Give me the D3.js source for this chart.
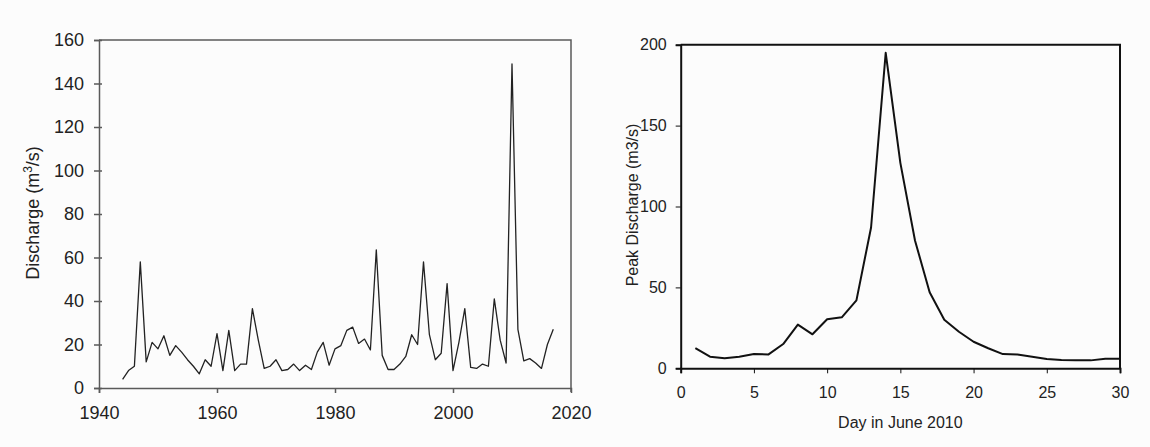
<!DOCTYPE html>
<html>
<head>
<meta charset="utf-8">
<script src="https://cdn.jsdelivr.net/npm/d3@7"></script>
<style>
  body { margin: 0; background: #fcfcfc; }
  svg { font-family: Arial, "Liberation Sans", sans-serif; }
</style>
</head>
<body>
<svg id="chart" width="1150" height="447"></svg>
<script>
/* DATA */
const years = d3.range(1944, 2018);
const annualPeak = [4, 8, 10, 58, 12, 21, 18, 24, 15, 19.5,
  16.5, 13, 10, 6.5, 13, 10, 25, 8, 26.5, 8,
  11, 11, 36.5, 22, 9, 10, 13, 8, 8.5, 11,
  8, 10.5, 8.5, 16.5, 21, 10.5, 18, 19.5, 26.5, 28,
  20.5, 22.5, 17.5, 63.5, 15, 8.5, 8.5, 11, 14.5, 24.5,
  20, 58, 24.5, 13, 16, 48, 8, 21, 36.5, 9.5,
  9, 11, 10, 41, 22, 11.5, 149, 27, 12.5, 13.5,
  11.5, 9, 20, 27];
const yearTicks = [1940, 1960, 1980, 2000, 2020];
const dischargeTicks = [0, 20, 40, 60, 80, 100, 120, 140, 160];

const days = d3.range(1, 31);
const junePeak = [12.5, 7.2, 6.2, 7.2, 8.8, 8.6, 15, 27, 21, 30.3,
  31.5, 42, 87, 195, 127, 79, 47, 30, 22.6, 16.4,
  12.4, 8.8, 8.5, 7.2, 5.7, 5.1, 4.9, 4.9, 5.9, 5.9];
const dayTicks = [0, 5, 10, 15, 20, 25, 30];
const peakTicks = [0, 50, 100, 150, 200];

const svg = d3.select("#chart");

/* LEFT: annual discharge */
const x1 = d3.scaleLinear().domain([1940, 2020]).range([99, 571]);
const y1 = d3.scaleLinear().domain([0, 160]).range([388, 40]);
const grey = "#5a5a5a";

const left = svg.append("g").attr("font-size", 18);

// frame top + right
left.append("path")
  .attr("d", `M${x1(1940)},${y1(160)}H${x1(2020)}V${y1(0) + 4}`)
  .attr("fill", "none").attr("stroke", grey).attr("stroke-width", 1.5);

const ax1 = left.append("g").attr("transform", `translate(0,${y1(0)})`)
  .call(d3.axisBottom(x1).tickValues(yearTicks).tickFormat(d3.format("d")).tickSize(5).tickPadding(13));
const ay1 = left.append("g").attr("transform", `translate(${x1(1940)},0)`)
  .call(d3.axisLeft(y1).tickValues(dischargeTicks).tickSize(5).tickPadding(10));
[ax1, ay1].forEach(g => {
  g.select(".domain").attr("stroke", grey).attr("stroke-width", 1.5);
  g.selectAll(".tick line").attr("stroke", grey).attr("stroke-width", 1.5);
  g.selectAll("text").attr("fill", "#222").attr("font-size", 18);
});
ay1.selectAll(".tick line").attr("x2", 3).attr("x1", -5);
ax1.selectAll(".tick").filter(d => d === 2020).select("line").remove();

left.append("path")
  .datum(years.map((y, i) => [y, annualPeak[i]]))
  .attr("fill", "none").attr("stroke", "#222").attr("stroke-width", 1.3)
  .attr("stroke-linejoin", "round")
  .attr("d", d3.line().x(d => x1(d[0])).y(d => y1(d[1])));

const lab1 = left.append("text")
  .attr("transform", "translate(39,213) rotate(-90)")
  .attr("text-anchor", "middle").attr("fill", "#222").attr("font-size", 18);
lab1.append("tspan").text("Discharge (m");
lab1.append("tspan").attr("dy", -7).attr("font-size", 12).text("3");
lab1.append("tspan").attr("dy", 7).text("/s)");

/* RIGHT: June 2010 */
const x2 = d3.scaleLinear().domain([0, 30]).range([680.7, 1120]);
const y2 = d3.scaleLinear().domain([0, 200]).range([368.3, 44.7]);

const right = svg.append("g");
right.append("path")
  .attr("d", `M${x2(0)},${y2(200)}H${x2(30)}V${y2(0)}`)
  .attr("fill", "none").attr("stroke", "#111").attr("stroke-width", 2);

const ax2 = right.append("g").attr("transform", `translate(0,${y2(0)})`)
  .call(d3.axisBottom(x2).tickValues(dayTicks).tickSize(5).tickPadding(13));
const ay2 = right.append("g").attr("transform", `translate(${x2(0)},0)`)
  .call(d3.axisLeft(y2).tickValues(peakTicks).tickSize(5).tickPadding(9));
[ax2, ay2].forEach(g => {
  g.select(".domain").attr("stroke", "#111").attr("stroke-width", 2);
  g.selectAll(".tick line").attr("stroke", "#111").attr("stroke-width", 1);
  g.selectAll("text").attr("fill", "#222").attr("font-size", 16);
});

right.append("path")
  .datum(days.map((d, i) => [d, junePeak[i]]))
  .attr("fill", "none").attr("stroke", "#111").attr("stroke-width", 2)
  .attr("stroke-linejoin", "round")
  .attr("d", d3.line().x(d => x2(d[0])).y(d => y2(d[1])));

right.append("text")
  .attr("x", x2(15)).attr("y", 428)
  .attr("text-anchor", "middle").attr("fill", "#222").attr("font-size", 16)
  .text("Day in June 2010");

right.append("text")
  .attr("transform", "translate(638,205) rotate(-90)")
  .attr("text-anchor", "middle").attr("fill", "#222").attr("font-size", 16)
  .text("Peak Discharge (m3/s)");
</script>
</body>
</html>
